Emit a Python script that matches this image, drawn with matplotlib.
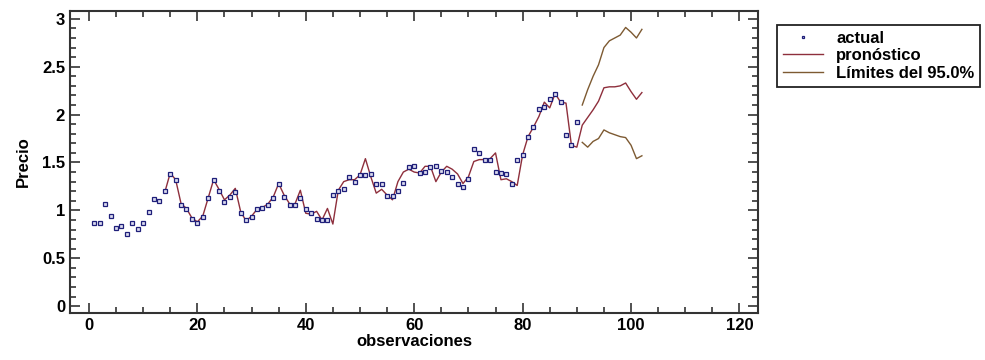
import numpy as np
import matplotlib
matplotlib.use("Agg")
import matplotlib.pyplot as plt
from matplotlib.ticker import MultipleLocator

# datos
actual = [0.867, 0.867, 1.07, 0.94, 0.82, 0.836, 0.75, 0.867, 0.81, 0.867,
          0.985, 1.115, 1.10, 1.20, 1.38, 1.32, 1.06, 1.01, 0.91, 0.87,
          0.93, 1.13, 1.32, 1.205, 1.087, 1.14, 1.19, 0.97, 0.90, 0.935,
          1.01, 1.02, 1.055, 1.13, 1.275, 1.14, 1.055, 1.055, 1.13, 1.01,
          0.97, 0.91, 0.895, 0.90, 1.16, 1.205, 1.22, 1.345, 1.295, 1.365,
          1.365, 1.375, 1.275, 1.275, 1.155, 1.155, 1.20, 1.29, 1.45, 1.465,
          1.39, 1.405, 1.45, 1.465, 1.415, 1.405, 1.35, 1.28, 1.245, 1.33,
          1.64, 1.60, 1.53, 1.53, 1.405, 1.39, 1.38, 1.28, 1.525, 1.58,
          1.77, 1.875, 2.06, 2.08, 2.16, 2.21, 2.135, 1.79, 1.68, 1.92]
x_actual = np.arange(1, len(actual) + 1)

pronostico = [1.19, 1.39, 1.32, 1.07, 1.02, 0.92, 0.88, 0.94, 1.13, 1.32,
              1.22, 1.11, 1.16, 1.23, 0.985, 0.89, 0.94, 1.01, 1.03, 1.066,
              1.14, 1.28, 1.16, 1.07, 1.066, 1.21, 0.97, 0.96, 0.99, 0.90,
              1.02, 0.857, 1.21, 1.30, 1.32, 1.32, 1.37, 1.54, 1.35, 1.18,
              1.22, 1.16, 1.11, 1.30, 1.40, 1.43, 1.40, 1.39, 1.46, 1.46,
              1.30, 1.40, 1.46, 1.43, 1.38, 1.28, 1.35, 1.51, 1.53, 1.53,
              1.54, 1.60, 1.32, 1.33, 1.30, 1.26, 1.58, 1.77, 1.87, 1.98,
              2.13, 2.07, 2.22, 2.13, 2.12, 1.68, 1.66,
              1.89, 1.97, 2.05, 2.14, 2.28, 2.29, 2.29, 2.30, 2.33, 2.24, 2.16, 2.23]
x_pron = np.arange(14, 14 + len(pronostico))

lim_sup = [2.10, 2.26, 2.40, 2.52, 2.70, 2.77, 2.80, 2.83, 2.91, 2.86, 2.80, 2.89]
lim_inf = [1.71, 1.66, 1.72, 1.75, 1.84, 1.81, 1.79, 1.77, 1.76, 1.68, 1.54, 1.57]
x_lim = np.arange(91, 91 + len(lim_sup))

plt.rcParams["font.family"] = ["Liberation Sans", "DejaVu Sans"]
plt.rcParams["font.weight"] = "bold"

fig = plt.figure(figsize=(9.85, 3.6), dpi=100)
ax = fig.add_axes([0.071, 0.131, 0.699, 0.838])

col_pron = "#8e2f3c"
col_lim = "#7d5a32"

ax.plot(x_pron, pronostico, color=col_pron, lw=1.0, label="pronóstico", zorder=2)
ax.plot(x_lim, lim_sup, color=col_lim, lw=1.0, label="Límites del 95.0%", zorder=2)
ax.plot(x_lim, lim_inf, color=col_lim, lw=1.0, zorder=2)
ax.plot(x_actual, actual, ls="none", marker="s", markersize=2.8,
        markerfacecolor="#dcdcef", markeredgecolor="#1f1f7a", markeredgewidth=0.9,
        label="actual", zorder=3)

ax.set_xlim(-3.5, 123.5)
ax.set_ylim(-0.07, 3.08)
ax.xaxis.set_major_locator(MultipleLocator(20))
ax.xaxis.set_minor_locator(MultipleLocator(5))
ax.yaxis.set_major_locator(MultipleLocator(0.5))
ax.yaxis.set_minor_locator(MultipleLocator(0.1))
ax.yaxis.set_major_formatter(plt.FuncFormatter(lambda v, p: f"{v:g}"))
ax.tick_params(which="both", direction="in", top=True, right=True,
               color="#333333", width=1.2, labelsize=12)
ax.tick_params(which="major", length=7)
ax.tick_params(which="minor", length=4)
for s in ax.spines.values():
    s.set_linewidth(1.5)
    s.set_color("#333333")

ax.set_xlabel("observaciones", fontsize=12, fontweight="bold", labelpad=1)
ax.set_ylabel("Precio", fontsize=12, fontweight="bold", labelpad=8)

h, l = ax.get_legend_handles_labels()
orden = [2, 0, 1]
leg = fig.legend([h[i] for i in orden], [l[i] for i in orden],
                 loc="upper left", bbox_to_anchor=(0.789, 0.931),
                 borderaxespad=0, frameon=True, fancybox=False, framealpha=1,
                 edgecolor="#222222", prop={"weight": "bold", "size": 12},
                 handlelength=2.4, borderpad=0.35, labelspacing=0.15,
                 handletextpad=0.8, markerscale=0.7)
leg.get_frame().set_linewidth(1.3)

fig.savefig("out.png", dpi=100)
